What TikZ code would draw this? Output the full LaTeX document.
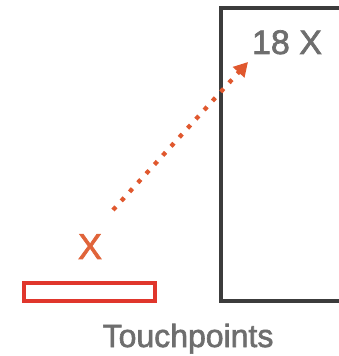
\documentclass[tikz,border=0pt]{standalone}
\usepackage{fontspec}
\setmainfont{Liberation Sans}
\newfontfamily\heavyfont[FakeBold=2]{Liberation Sans}
\usetikzlibrary{arrows.meta}
\definecolor{boxgray}{HTML}{3C3C3C}
\definecolor{txtgray}{HTML}{6E6E6E}
\definecolor{tpred}{HTML}{E0362C}
\definecolor{arrorange}{HTML}{E0582E}
\definecolor{xorange}{HTML}{E0643A}
\tikzset{
  bigtext/.style={font=\heavyfont\fontsize{34}{34}\selectfont, text=txtgray, inner sep=0pt, anchor=base},
  flowarrow/.style={arrorange, line width=4.3pt, dash pattern=on 4.3pt off 8pt, -{Triangle[width=15pt,length=14pt]}}
}
\begin{document}
\begin{tikzpicture}[x=1pt,y=1pt]
\useasboundingbox (0,0) rectangle (339,356);
\clip (0,0) rectangle (339,356);
% big box (cut at right edge)
\draw[boxgray, line width=3.5pt] (360,348) -- (221,348) -- (221,55) -- (360,55);
\node[bigtext] (eighteen) at (287,302) {18 X};
% touchpoint bar
\node[draw=tpred, line width=3.3pt, minimum width=131pt, minimum height=18pt, inner sep=0pt] (bar) at (89.5,64) {};
\node[bigtext, text=xorange, font=\heavyfont\fontsize{36}{36}\selectfont] (x) at (90,97) {X};
\node[bigtext, font=\heavyfont\fontsize{32}{32}\selectfont] (tp) at (188,9) {Touchpoints};
% dotted arrow
\coordinate (a0) at (113,146);
\coordinate (a1) at (248,294);
\draw[flowarrow] (a0) -- (a1);
\end{tikzpicture}
\end{document}
